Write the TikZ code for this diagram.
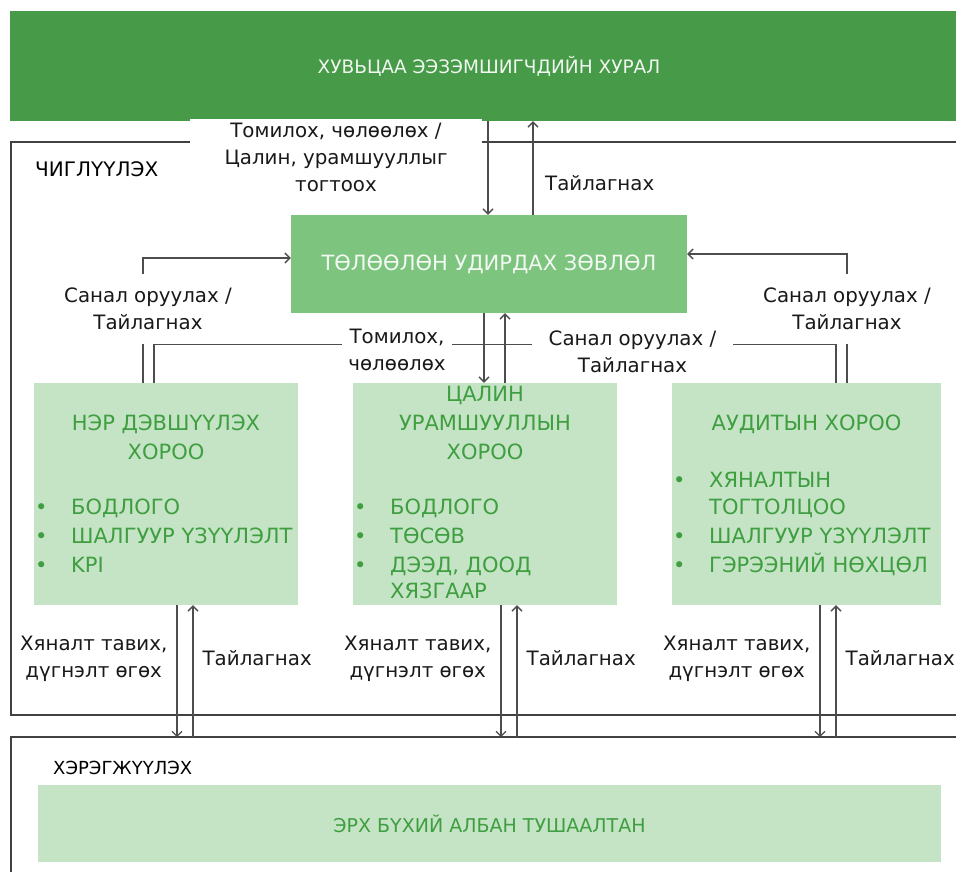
\documentclass[tikz,border=0pt]{standalone}
\usepackage{fontspec}
\setmainfont{DejaVu Sans}
\usetikzlibrary{arrows.meta}
\definecolor{barGreen}{HTML}{479A47}
\definecolor{boardGreen}{HTML}{7DC47E}
\definecolor{paleGreen}{HTML}{C5E4C5}
\definecolor{textGreen}{HTML}{3E9E40}
\definecolor{lineGray}{HTML}{4D4D4D}
\newcommand\bulletmark{\makebox[36.2pt][l]{•}}
\newcommand\contline{\hspace*{36.2pt}}

\begin{document}
\begin{tikzpicture}[x=1pt,y=-1pt]
    \tikzset{
        frame/.style={draw=lineGray!85!black, line width=2pt},
        link/.style={draw=lineGray, line width=1.3pt},
        arr/.style={link, -{Straight Barb[length=5pt,width=10pt]}},
        combox/.style={fill=paleGreen, minimum width=264pt, minimum height=222pt, inner sep=0pt},
        comtext/.style={text=textGreen, font=\fontsize{21}{29}\selectfont, inner sep=0pt},
        note/.style={font=\fontsize{19.8}{27}\selectfont, align=center, inner sep=0pt, text=black!90},
        cover/.style={note, fill=white}
    }
    \useasboundingbox (0,0) rectangle (956,872);
    \clip (0,0) rectangle (956,872);

    \node[fill=barGreen, minimum width=958pt, minimum height=110pt, inner sep=0pt,
          text=white!92!barGreen, font=\fontsize{18.5}{22}\selectfont] (shareholders) at (489,66) {ХУВЬЦАА ЭЭЗЭМШИГЧДИЙН ХУРАЛ};

    \draw[frame] (970,142) -- (11,142) -- (11,715) -- (970,715);
    \draw[frame] (970,737) -- (11,737) -- (11,880);
    \node[anchor=base west, inner sep=0pt, font=\fontsize{20}{24}\selectfont] (directing) at (35,177) {ЧИГЛҮҮЛЭХ};
    \node[anchor=base west, inner sep=0pt, font=\fontsize{18}{22}\selectfont] (executing) at (53,774) {ХЭРЭГЖҮҮЛЭХ};

    \node[fill=boardGreen, minimum width=396pt, minimum height=98pt, inner sep=0pt,
          text=white!90!boardGreen, font=\fontsize{21}{24}\selectfont] (board) at (489,264) {ТӨЛӨӨЛӨН УДИРДАХ ЗӨВЛӨЛ};

    \node[combox] (nomination) at (166,494) {};
    \node[combox] (salary) at (485,494) {};
    \node[combox, minimum width=269pt] (audit) at (806.5,494) {};

    \node[comtext, align=center, anchor=north] (nomination-title) at (166,410.3) {\strut НЭР ДЭВШҮҮЛЭХ\\\strut ХОРОО};
    \node[comtext, align=left, anchor=north west] (nomination-list) at (34.8,494.3)
        {\strut\bulletmark БОДЛОГО\\\strut\bulletmark ШАЛГУУР ҮЗҮҮЛЭЛТ\\\strut\bulletmark KPI};
    \node[comtext, align=center, anchor=north] (salary-title) at (485,381.3) {\strut ЦАЛИН\\\strut УРАМШУУЛЛЫН\\\strut ХОРОО};
    \node[comtext, align=left, anchor=north west] (salary-list) at (353.8,494.3)
        {\strut\bulletmark БОДЛОГО\\\strut\bulletmark ТӨСӨВ\\\strut\bulletmark ДЭЭД, ДООД\\[-3pt]\strut\contline ХЯЗГААР};
    \node[comtext, anchor=base] (audit-title) at (806.5,430.6) {АУДИТЫН ХОРОО};
    \node[comtext, align=left, anchor=north west] (audit-list) at (672.8,467.3)
        {\strut\bulletmark ХЯНАЛТЫН\\[-2pt]\strut\contline ТОГТОЛЦОО\\\strut\bulletmark ШАЛГУУР ҮЗҮҮЛЭЛТ\\\strut\bulletmark ГЭРЭЭНИЙ НӨХЦӨЛ};

    \node[fill=paleGreen, minimum width=903pt, minimum height=77pt, inner sep=0pt,
          text=textGreen, font=\fontsize{19}{22}\selectfont] (officers) at (489.5,823.5) {ЭРХ БҮХИЙ АЛБАН ТУШААЛТАН};

    \draw[arr] ([xshift=-1pt]shareholders.south) -- ([xshift=-1pt]board.north);
    \draw[arr] ([xshift=44pt]board.north) -- ([xshift=44pt]shareholders.south);
    \draw[arr] ([xshift=-5pt]board.south) -- ([xshift=-1pt]salary.north);
    \draw[arr] ([xshift=20pt]salary.north) -- ([xshift=16pt]board.south);
    \draw[arr] ([xshift=-23pt]nomination.north) |- ([yshift=6pt]board.west);
    \draw[arr] ([xshift=40.5pt]audit.north) |- ([yshift=10pt]board.east);
    \draw[link] ([xshift=-12pt]nomination.north) -- ++(0,-38) -| ([xshift=29.5pt]audit.north);

    \foreach \com/\dx in {nomination/11, salary/16, audit/13.5} {
        \draw[arr] ([xshift=\dx pt]\com.south) -- ++(0,132)
            node[note, pos=0.405, anchor=east, xshift=-9pt] (\com-control) {Хяналт тавих,\\дүгнэлт өгөх};
        \draw[arr] ([xshift=\dx pt+16pt]\com.south) ++(0,132) -- ++(0,-132)
            node[note, pos=0.6, anchor=west, xshift=9pt] (\com-report) {Тайлагнах};
    }

    \node[cover, minimum width=292pt, minimum height=77pt] (appoint-top) at (336,157.5) {Томилох, чөлөөлөх /\\Цалин, урамшууллыг\\тогтоох};
    \node[note, anchor=west] (report-top) at (545,183) {Тайлагнах};
    \node[cover, minimum height=70pt] (nomination-note) at (148,309) {Санал оруулах /\\Тайлагнах};
    \node[cover, minimum height=70pt] (audit-note) at (847,309) {Санал оруулах /\\Тайлагнах};
    \node[cover, minimum width=110pt] (appoint-mid) at (397,350) {Томилох,\\чөлөөлөх};
    \node[cover, minimum width=201pt] (propose-mid) at (632.5,351.5) {Санал оруулах /\\Тайлагнах};
\end{tikzpicture}
\end{document}
